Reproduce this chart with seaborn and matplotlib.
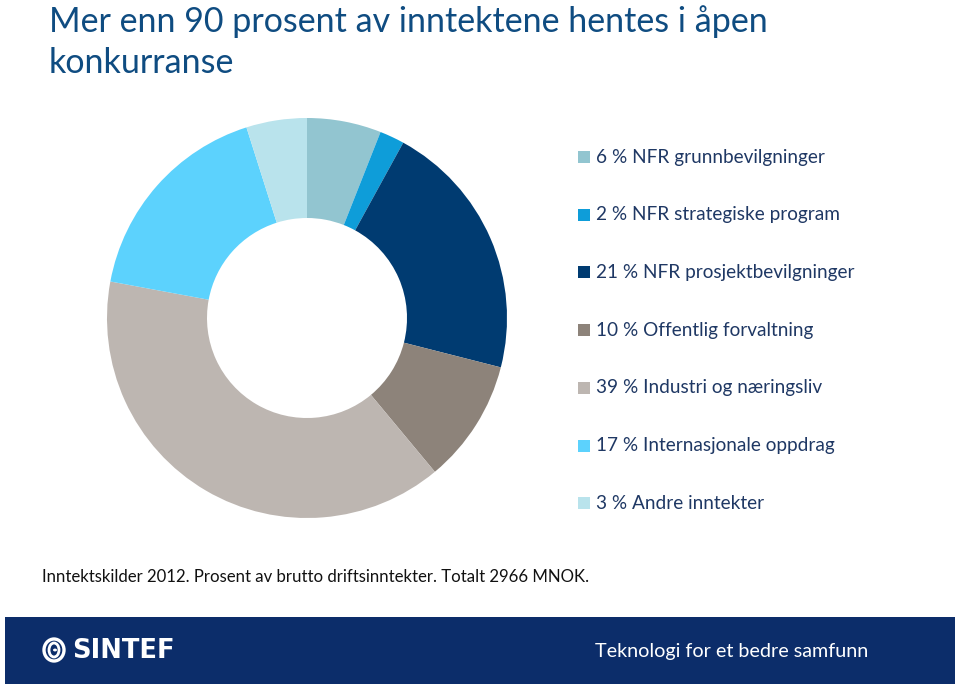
import matplotlib
matplotlib.use("Agg")
import matplotlib.pyplot as plt
import matplotlib.patches as mpatches
import seaborn as sns

# ---- data ----
categories = ["NFR grunnbevilgninger", "NFR strategiske program", "NFR prosjektbevilgninger",
              "Offentlig forvaltning", "Industri og næringsliv", "Internasjonale oppdrag",
              "Andre inntekter"]
label_pct = [6, 2, 21, 10, 39, 17, 3]
values = [6.0, 2.0, 21.0, 10.0, 39.0, 17.2, 4.9]
colors = ["#92C5D0", "#0E9DD9", "#003B71", "#8D837A", "#BDB6B1", "#5CD2FD", "#B9E3EC"]

title_text = "Mer enn 90 prosent av inntektene hentes i åpen\nkonkurranse"
caption_text = "Inntektskilder 2012. Prosent av brutto driftsinntekter. Totalt 2966 MNOK."
slogan_text = "Teknologi for et bedre samfunn"

sns.set_theme(style="white")
plt.rcParams["font.family"] = ["Lato", "DejaVu Sans"]

W, H = 960, 686
fig = plt.figure(figsize=(W / 100, H / 100), dpi=100)
fig.patch.set_facecolor("white")


def px(x, y):
    return x / W, 1 - y / H


# donut
cx, cy, r = 307, 318, 200
ax = fig.add_axes([(cx - r) / W, (H - cy - r) / H, 2 * r / W, 2 * r / H])
wedges, _ = ax.pie(values, colors=colors, startangle=90, counterclock=False,
                   radius=1.0, wedgeprops=dict(width=0.5, linewidth=0))
ax.set_xlim(-1, 1)
ax.set_ylim(-1, 1)
ax.set_aspect("equal")
ax.axis("off")

# title
fig.text(*px(49, 42), title_text, fontsize=24.5, color="#0F4C81", va="center", ha="left",
         linespacing=1.32)

# legend
text_color = "#1F3864"
y0, dy = 157, 57.7
for i, (cat, p, col) in enumerate(zip(categories, label_pct, colors)):
    yy = y0 + i * dy
    fig.patches.append(mpatches.Rectangle(px(578, yy + 6), 12 / W, 12 / H,
                                          transform=fig.transFigure, facecolor=col,
                                          edgecolor="none", figure=fig))
    fig.text(*px(596, yy), f"{p} % {cat}", fontsize=13.7, color=text_color,
             va="center", ha="left")

# caption
fig.text(*px(42, 577), caption_text, fontsize=12.1, color="#111111", va="center", ha="left")

# footer bar
fig.patches.append(mpatches.Rectangle(px(5, 684), 950 / W, 67 / H, transform=fig.transFigure,
                                      facecolor="#0C2D6A", edgecolor="none", figure=fig))
# logo
lx, ly = 54, 650
fig.patches.append(mpatches.Ellipse(px(lx, ly), 20 / W, 22 / H, transform=fig.transFigure,
                                    facecolor="none", edgecolor="white", linewidth=2.4, figure=fig))
fig.patches.append(mpatches.Ellipse(px(lx, ly), 10 / W, 14 / H, transform=fig.transFigure,
                                    facecolor="none", edgecolor="white", linewidth=2.0, figure=fig))
fig.patches.append(mpatches.Circle(px(lx + 1, ly), 2 / W, transform=fig.transFigure,
                                   facecolor="white", edgecolor="none", figure=fig))
fig.text(*px(72, 651), "SINTEF", fontsize=18.5, fontweight="heavy", color="white",
         va="center", ha="left", family=["DejaVu Sans"])
fig.text(*px(595, 651), slogan_text, fontsize=14.2, color="white", va="center", ha="left")

fig.savefig("out.png", dpi=100, facecolor="white")
